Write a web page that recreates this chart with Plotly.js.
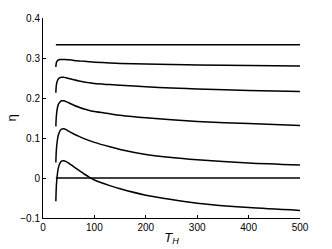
<!DOCTYPE html>
<html>
<head>
<meta charset="utf-8">
<script src="https://cdn.plot.ly/plotly-3.0.1.min.js"></script>
<style>html,body{margin:0;padding:0;background:#fff;}#plot{width:332px;height:249px;}</style>
</head>
<body>
<div id="plot"></div>
<script>
var T = [25, 26, 28, 30, 33, 36, 40, 45, 50, 60, 70, 80, 90, 100, 130, 150, 200, 250, 300, 400, 500];
var eta1 = [0.2775, 0.288, 0.293, 0.295, 0.296, 0.2965, 0.2965, 0.296, 0.2955, 0.294, 0.2928, 0.2916, 0.2905, 0.2896, 0.2876, 0.2865, 0.2847, 0.2836, 0.2828, 0.2813, 0.280];
var eta2 = [0.213, 0.232, 0.243, 0.248, 0.251, 0.252, 0.252, 0.2505, 0.249, 0.2455, 0.2425, 0.240, 0.238, 0.236, 0.2335, 0.232, 0.228, 0.225, 0.2225, 0.219, 0.2165];
var eta3 = [0.129, 0.155, 0.175, 0.184, 0.190, 0.193, 0.193, 0.191, 0.188, 0.182, 0.177, 0.1725, 0.169, 0.166, 0.1605, 0.157, 0.1505, 0.1455, 0.1415, 0.136, 0.1315];
var eta4 = [0.039, 0.070, 0.095, 0.108, 0.118, 0.122, 0.123, 0.121, 0.117, 0.110, 0.104, 0.0985, 0.0935, 0.089, 0.078, 0.0715, 0.059, 0.051, 0.0455, 0.0375, 0.0325];
var eta5 = [-0.058, -0.020, 0.010, 0.026, 0.037, 0.042, 0.043, 0.041, 0.037, 0.028, 0.019, 0.010, 0.002, -0.005, -0.019, -0.027, -0.043, -0.054, -0.063, -0.074, -0.081];
var limitT = [25, 500];
var limitTop = [0.3333, 0.3333];
var limitZero = [0, 0];

var series = [limitTop, eta1, eta2, eta3, eta4, eta5, limitZero];
var traces = series.map(function(ys, i){
  var xs = (ys.length === 2) ? limitT : T;
  return {x: xs, y: ys, mode: 'lines', hoverinfo: 'none',
          line: {color: '#000', width: 1.5, shape: 'spline', smoothing: 0.8}};
});

var layout = {
  width: 332, height: 249,
  margin: {l: 43, r: 32, t: 18, b: 31},
  showlegend: false,
  paper_bgcolor: '#fff', plot_bgcolor: '#fff',
  font: {family: 'Liberation Sans, Arial, sans-serif', size: 10, color: '#000'},
  xaxis: {
    range: [0, 500], tickvals: [0, 100, 200, 300, 400, 500],
    showgrid: false, zeroline: false, showline: true, linecolor: '#000', linewidth: 1,
    ticks: 'inside', ticklen: 3, tickcolor: '#000',
    title: {text: '<i>T</i><sub><i>H</i></sub>', font: {size: 13}, standoff: 0}
  },
  yaxis: {
    range: [-0.1, 0.4], tickvals: [-0.1, 0, 0.1, 0.2, 0.3, 0.4],
    ticktext: ['\u22120.1', '0', '0.1', '0.2', '0.3', '0.4'],
    showgrid: false, zeroline: false, showline: true, linecolor: '#000', linewidth: 1,
    ticks: 'inside', ticklen: 3, tickcolor: '#000',
    title: {text: 'η', font: {size: 13}, standoff: 0}
  }
};
Plotly.newPlot('plot', traces, layout, {staticPlot: true, displayModeBar: false});
</script>
</body>
</html>
